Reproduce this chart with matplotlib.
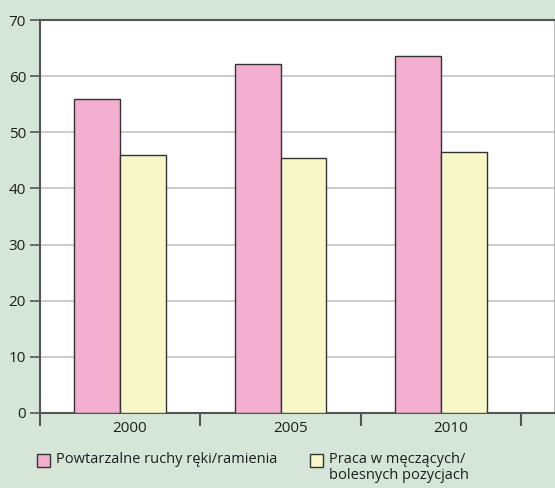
import numpy as np
import matplotlib.pyplot as plt
from matplotlib.patches import Rectangle

years = ['2000', '2005', '2010']
repetitive = [56.0, 62.2, 63.5]
painful = [46.0, 45.5, 46.4]
series_labels = ['Powtarzalne ruchy ręki/ramienia', 'Praca w męczących/\nbolesnych pozycjach']
series_colors = ['#f4afd0', '#f8f7c8']

plt.rcParams['font.family'] = ['Open Sans', 'DejaVu Sans']

bg = '#d5e6d8'
fig = plt.figure(figsize=(5.55, 4.88), dpi=100, facecolor=bg)
ax = fig.add_axes([40 / 555, 1 - 413 / 488, 515 / 555, 393 / 488])
ax.set_facecolor('white')

x = np.arange(len(years))
w = 0.285
ax.bar(x - w / 2, repetitive, w, color=series_colors[0], edgecolor='#333333', linewidth=1, zorder=3)
ax.bar(x + w / 2, painful, w, color=series_colors[1], edgecolor='#333333', linewidth=1, zorder=3)

ax.set_ylim(0, 70)
ax.set_xlim(-0.5, 2.71)
ax.set_yticks(range(0, 71, 10))
ax.yaxis.grid(True, color='#c4c4c4', linewidth=1.2, zorder=0)

# category boundaries get the tick marks, year labels sit between them
ax.set_xticks([-0.5, 0.5, 1.5, 2.5])
ax.set_xticklabels([])
ax.set_xticks(x + 0.06, minor=True)
ax.set_xticklabels(years, minor=True)
ax.tick_params(axis='x', which='major', length=9, width=1.5, color='#555555', direction='out')
ax.tick_params(axis='x', which='minor', length=0, pad=6, labelsize=11, labelcolor='#1e1e1e')
ax.tick_params(axis='y', length=7, width=1.2, color='#555555', pad=3, labelsize=11, labelcolor='#1e1e1e')

for side in ['left', 'bottom', 'top']:
    ax.spines[side].set_color('#555555')
    ax.spines[side].set_linewidth(1.5)
ax.spines['right'].set_color('#aaaaaa')
ax.spines['right'].set_linewidth(1.2)

# legend below the axes, laid out in figure pixels
W, H = 555, 488
for (px, label, color) in [(37, series_labels[0], series_colors[0]), (310, series_labels[1], series_colors[1])]:
    fig.add_artist(Rectangle((px / W, 1 - 467 / H), 13 / W, 13 / H, transform=fig.transFigure,
                             facecolor=color, edgecolor='#333333', linewidth=1))
    fig.text((px + 19) / W, 1 - 452 / H, label, ha='left', va='top', fontsize=10.5,
             color='#1e1e1e', linespacing=1.05)

fig.savefig('out.png', dpi=100, facecolor=bg)
